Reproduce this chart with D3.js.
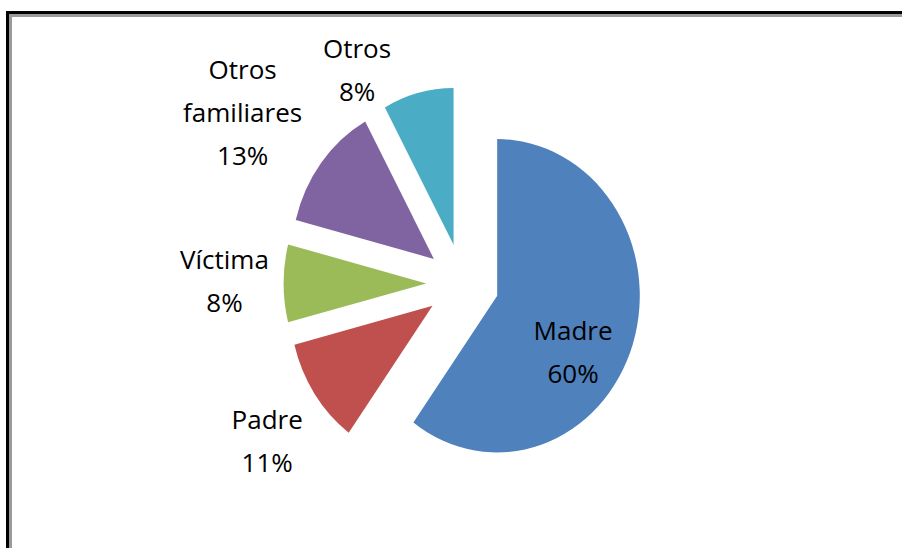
<!DOCTYPE html>
<html>
<head>
<meta charset="utf-8">
<script src="https://cdn.jsdelivr.net/npm/d3@7"></script>
<style>
  html, body { margin: 0; padding: 0; background: #fff; }
  svg { display: block; }
</style>
</head>
<body>
<svg id="chart" width="902" height="548"></svg>
<script>
// ---- data ----
const categories = ["Madre", "Padre", "Víctima", "Otros familiares", "Otros"];
const values = [60, 11, 8, 13, 8];
const labelLines = [["Madre"], ["Padre"], ["Víctima"], ["Otros", "familiares"], ["Otros"]];
const colors = ["#4F81BD", "#C0504D", "#9BBB59", "#8064A2", "#4BACC6"];

// ---- layout ----
const W = 902, H = 548;
const cx = 462.6, cy = 283.4;   // pie centre
const rx = 142.6, ry = 156.7;   // pie is drawn slightly squeezed horizontally
const explode = 0.255;          // explosion, fraction of radius
// label placement (polar, relative to pie centre, in radius units)
const labelAngleShift = [11.5, -2.1, 0.4, -2.5, -14.2]; // degrees
const labelRadius = [0.89, 1.70, 1.67, 1.89, 1.546];
const lineH = 43, capH = 18.5;

const svg = d3.select("#chart");
svg.append("rect").attr("width", W).attr("height", H).attr("fill", "#fff");

// frame (black outer + gray inner), cut by the right/bottom edges
svg.append("rect").attr("x", 6).attr("y", 11).attr("width", W - 6).attr("height", 3).attr("fill", "#000");
svg.append("rect").attr("x", 6).attr("y", 11).attr("width", 3).attr("height", H - 11).attr("fill", "#000");
svg.append("rect").attr("x", 9).attr("y", 14).attr("width", W - 9).attr("height", 3).attr("fill", "#9a9a9a");
svg.append("rect").attr("x", 9).attr("y", 14).attr("width", 3).attr("height", H - 14).attr("fill", "#9a9a9a");

const data = categories.map((c, i) => ({ cat: c, value: values[i], i }));
const pie = d3.pie().value(d => d.value).sort(null);
const arcs = pie(data);

const R = 100; // unit radius, scaled by transform
const arc = d3.arc().innerRadius(0).outerRadius(R);

const g = svg.append("g")
  .attr("transform", `translate(${cx},${cy}) scale(${rx / R},${ry / R})`);

g.selectAll("path").data(arcs).join("path")
  .attr("d", arc)
  .attr("fill", d => colors[d.data.i])
  .attr("transform", d => {
    const a = (d.startAngle + d.endAngle) / 2;
    return `translate(${Math.sin(a) * explode * R},${-Math.cos(a) * explode * R})`;
  });

// labels
const lg = svg.append("g")
  .attr("font-family", "'Open Sans', 'Noto Sans', sans-serif")
  .attr("font-size", 26)
  .attr("fill", "#000")
  .attr("text-anchor", "middle");

arcs.forEach(d => {
  const i = d.data.i;
  const a = (d.startAngle + d.endAngle) / 2 + labelAngleShift[i] * Math.PI / 180;
  const x = cx + Math.sin(a) * labelRadius[i] * rx;
  const y = cy - Math.cos(a) * labelRadius[i] * ry;
  const lines = labelLines[i].concat([Math.round(d.data.value) + "%"]);
  const first = y - (lines.length - 1) * lineH / 2 + capH / 2;
  const t = lg.append("text").attr("x", x).attr("y", first);
  lines.forEach((ln, k) => {
    t.append("tspan").attr("x", x).attr("y", first + k * lineH).text(ln);
  });
});
</script>
</body>
</html>
